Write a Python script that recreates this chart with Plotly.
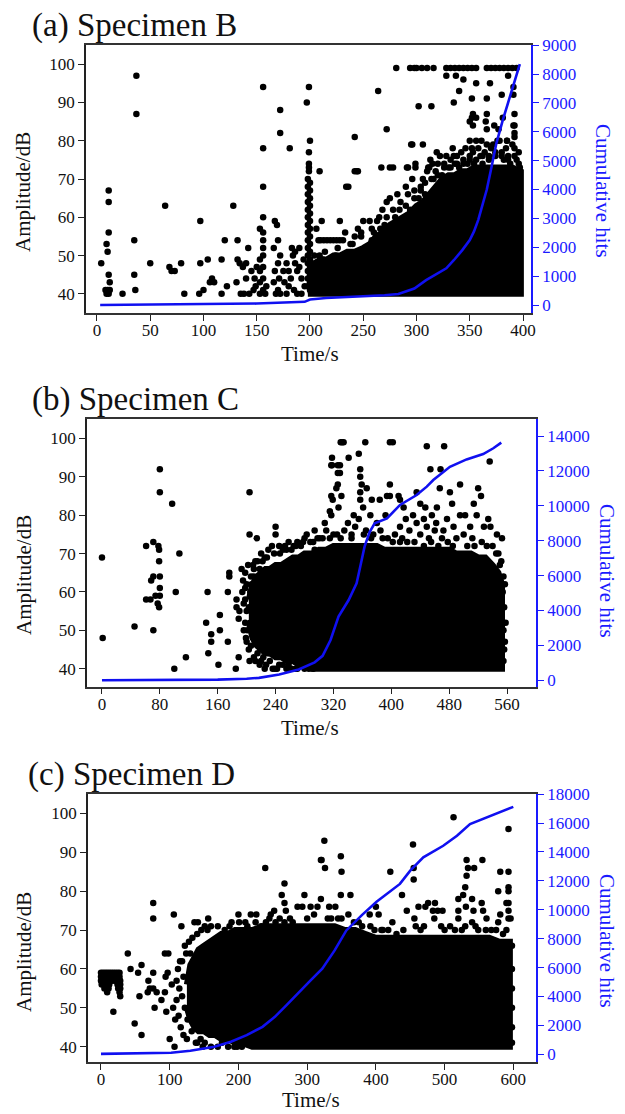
import plotly.graph_objects as go

W, H = 625, 1114
FONT = "Liberation Serif"
BLUE = "#1a1aff"
LINE_BLUE = "#1010f0"

# ---------------- Panel (a) Specimen B ----------------
a_time_ticks = [0, 50, 100, 150, 200, 250, 300, 350, 400]
a_hit_ticks = [0, 1000, 2000, 3000, 4000, 5000, 6000, 7000, 8000, 9000]
a_cum_t = [3, 50, 100, 150, 195, 200, 215, 245, 270, 283, 298, 309, 318, 328, 335, 343, 350,
           354, 358, 362, 366, 370, 375, 381, 386, 391, 395, 397]
a_cum_hits = [0, 10, 25, 50, 110, 190, 240, 290, 340, 380, 570, 860, 1060, 1270, 1550, 1900, 2250,
              2550, 2950, 3450, 4000, 4700, 5600, 6400, 7000, 7600, 8150, 8340]
# dense core (solid black region): time, upper and lower amplitude
a_core_t = [198, 204, 210, 216, 222, 228, 235, 242, 250, 256, 262, 268, 275, 281, 287, 293, 300, 306, 312,
            318, 324, 330, 336, 342, 348, 354, 360, 366, 372, 378, 384, 390, 398]
a_core_hi = [48, 48, 49, 49, 50, 50, 51, 51, 52, 53, 55, 56, 58, 59, 60, 61, 63, 64, 66,
             68, 70, 71, 71, 72, 72, 73, 73, 73, 73, 73, 73, 73, 72]
a_core_lo = [40, 40, 40, 40, 40, 40, 40, 40, 40, 40, 40, 40, 40, 40, 40, 40, 40, 40, 40,
             40, 40, 40, 40, 40, 40, 40, 40, 40, 40, 40, 40, 40, 40]
a_pts_early = [(4, 48), (8, 41), (9, 40), (10, 41), (11, 40), (12, 41), (12, 43), (11, 45), (10, 51), (9, 53),
               (11, 56), (11, 64), (11, 67), (24, 40), (35, 45), (36, 41), (35, 54), (37, 87), (37, 97),
               (50, 48), (64, 63), (68, 47), (70, 46), (73, 46), (79, 48), (82, 40), (96, 40), (97, 48),
               (97, 59), (100, 41), (104, 49), (106, 43), (108, 44), (110, 43), (117, 40), (117, 49),
               (120, 54), (122, 42), (128, 63), (131, 43), (132, 54), (132, 49), (134, 48), (135, 40),
               (137, 47), (138, 40), (140, 48), (140, 44), (142, 52), (143, 40), (145, 46), (147, 41)]
a_pts_mid = [(148, 44), (150, 47), (149, 42), (153, 57), (156, 56), (156, 54), (156, 52), (156, 50), (153, 49),
             (156, 47), (153, 46), (156, 44), (153, 43), (156, 41), (153, 40), (158, 40), (159, 42), (156, 60),
             (156, 68), (156, 78), (156, 94), (167, 59), (169, 58), (170, 54), (166, 52), (172, 50), (170, 48),
             (167, 46), (171, 44), (166, 43), (170, 41), (168, 40), (172, 40), (172, 82), (172, 88), (181, 78),
             (175, 46), (178, 48), (180, 46), (183, 52), (184, 50), (186, 48), (188, 46), (190, 47), (192, 44),
             (176, 43), (180, 42), (185, 41), (188, 40), (192, 40), (195, 42), (178, 40), (182, 44), (186, 51),
             (194, 49), (190, 52),
             (198, 42), (198, 44), (198, 46), (198, 48), (198, 50), (198, 52), (198, 54), (198, 56), (198, 58),
             (198, 60), (198, 62), (198, 64), (198, 66), (198, 68), (198, 70),
             (200, 41), (200, 43), (200, 45), (200, 47), (200, 49), (200, 51), (200, 53), (200, 55), (200, 57),
             (200, 59), (200, 61), (200, 63), (200, 65), (200, 67), (200, 69),
             (199, 72), (199, 73), (199, 74), (199, 77), (200, 80), (197, 90), (199, 94),
             (209, 72), (206, 57), (208, 54), (210, 54), (213, 54), (216, 54), (219, 54), (222, 54), (225, 54),
             (228, 54), (231, 54), (209, 50), (212, 49), (216, 47), (220, 49), (224, 50), (228, 48), (232, 47),
             (236, 49), (211, 59), (228, 59), (233, 56), (234, 68), (240, 53), (242, 55), (245, 57), (248, 55),
             (250, 59), (252, 52), (254, 50), (256, 59), (258, 54), (260, 56), (262, 52), (263, 59), (244, 50),
             (246, 47), (238, 46), (242, 81), (244, 72), (242, 72), (245, 72), (236, 68),
             (204, 50), (214, 51), (226, 52), (238, 53), (248, 56), (258, 57), (266, 57), (272, 60)]
a_pts_high = [(264, 93), (272, 83), (267, 73), (275, 73), (278, 73), (281, 99), (265, 60), (268, 62), (270, 58),
              (272, 64), (275, 65), (278, 62), (280, 60), (282, 66), (285, 64), (287, 58), (290, 68), (292, 66),
              (294, 62), (296, 70), (298, 67), (291, 73), (292, 73), (299, 73), (299, 74), (295, 79), (296, 79),
              (302, 89), (306, 79), (294, 99), (298, 99), (300, 99), (305, 99), (310, 99), (314, 89), (316, 99),
              (302, 65), (304, 68), (306, 70), (308, 66), (310, 72), (311, 73), (313, 75), (315, 74), (312, 73),
              (316, 70), (318, 72), (319, 77), (320, 74), (322, 76), (324, 71), (326, 74), (328, 76), (330, 73),
              (332, 75), (334, 78), (335, 76), (336, 74), (338, 76), (340, 73), (342, 77), (344, 75), (346, 78),
              (348, 74), (350, 80), (350, 76), (352, 78), (353, 77), (354, 74), (356, 80), (358, 78), (360, 76),
              (361, 80), (362, 74), (364, 77), (366, 83), (366, 79), (368, 75), (370, 78), (372, 79), (374, 76),
              (376, 80), (378, 80), (380, 77), (382, 75), (384, 78), (385, 80), (386, 76), (388, 74), (390, 79),
              (392, 78), (394, 75), (396, 77), (397, 73),
              (284, 62), (290, 63), (298, 65), (304, 67), (308, 69), (314, 70), (320, 71), (326, 73), (332, 73),
              (338, 74), (344, 74), (350, 75), (356, 75), (362, 76), (368, 76), (374, 77), (380, 76), (386, 75),
              (392, 76), (396, 74),
              (328, 99), (332, 99), (336, 99), (340, 99), (344, 99), (348, 99), (352, 99), (356, 99), (366, 99),
              (370, 99), (374, 99), (378, 99), (382, 99), (386, 99), (390, 99), (394, 99), (328, 97), (337, 97),
              (344, 96), (356, 95), (369, 95), (386, 97), (340, 93), (391, 94), (391, 92), (335, 90), (352, 91),
              (366, 91), (380, 92), (392, 87), (353, 87), (352, 86), (353, 84), (365, 85), (373, 84), (381, 86),
              (392, 84), (392, 82), (350, 85), (356, 86), (366, 87), (377, 83), (391, 84), (392, 81), (385, 80)]

# ---------------- Panel (b) Specimen C ----------------
b_time_ticks = [0, 80, 160, 240, 320, 400, 480, 560]
b_hit_ticks = [0, 2000, 4000, 6000, 8000, 10000, 12000, 14000]
b_cum_t = [0, 80, 160, 200, 217, 245, 272, 294, 305, 316, 327, 341, 352, 357, 363, 370, 377, 394, 412, 435,
           449, 458, 481, 504, 527, 541, 552]
b_cum_hits = [0, 10, 40, 90, 140, 330, 620, 1030, 1400, 2310, 3650, 4600, 5560, 6510, 7660, 8500, 9000, 9280,
              10050, 10620, 11100, 11480, 12240, 12660, 12970, 13300, 13620]
b_core_t = [203, 208, 214, 220, 226, 232, 240, 248, 256, 264, 272, 280, 290, 300, 310, 320, 330, 340, 350, 360,
            370, 380, 390, 400, 410, 420, 430, 440, 450, 460, 470, 480, 490, 500, 510, 520, 530, 540, 548, 553]
b_core_hi = [58, 62, 64, 65, 66, 66, 67, 67, 68, 69, 69, 70, 70, 71, 71, 72, 72, 72, 72, 72,
             72, 72, 71, 71, 71, 71, 71, 71, 71, 71, 71, 71, 70, 70, 70, 69, 69, 67, 65, 62]
b_core_lo = [52, 48, 46, 45, 44, 44, 43, 43, 42, 42, 41, 41, 40, 40, 40, 40, 40, 40, 40, 40,
             40, 40, 40, 40, 40, 40, 40, 40, 40, 40, 40, 40, 40, 40, 40, 40, 40, 40, 40, 40]
b_pts_early = [(0, 69), (1, 48), (45, 51), (61, 72), (71, 73), (78, 72), (79, 71), (80, 92), (80, 86), (97, 83),
               (79, 68), (68, 63), (71, 64), (80, 64), (80, 61), (61, 58), (67, 58), (74, 59), (80, 59), (77, 57),
               (79, 56), (71, 50), (107, 70), (102, 60), (100, 40), (116, 43), (146, 60), (144, 52), (151, 49),
               (151, 47), (147, 44), (161, 41), (163, 54), (163, 50), (174, 60), (174, 47), (176, 65), (176, 64),
               (185, 40), (186, 56), (186, 58), (189, 53), (189, 43), (204, 86), (204, 75), (214, 74), (204, 42),
               (193, 66), (198, 65), (198, 61), (202, 67), (209, 67), (194, 60), (196, 57), (200, 55), (198, 52),
               (196, 50), (200, 47), (203, 45), (205, 52), (207, 62), (208, 58), (210, 64), (206, 46), (210, 43),
               (215, 44), (220, 42), (223, 43), (227, 41), (230, 44), (239, 40), (242, 40), (250, 41), (252, 43),
               (258, 41), (262, 40), (266, 42), (270, 40), (275, 41), (280, 40), (286, 40), (292, 40),
               (190, 55), (195, 63), (198, 58), (200, 62), (201, 50), (199, 48), (203, 56), (205, 60), (206, 64),
               (212, 42), (218, 41), (225, 40), (232, 42), (236, 40), (245, 41), (255, 40), (268, 40)]
b_pts_high = [(215, 68), (220, 70), (225, 69), (230, 71), (235, 72), (240, 75), (240, 77), (245, 72), (250, 71),
              (253, 72), (258, 73), (262, 71), (265, 72), (270, 73), (275, 72), (280, 74), (283, 75), (288, 73),
              (294, 76), (294, 71), (298, 74), (301, 74), (308, 78), (315, 81), (317, 85), (317, 93), (318, 95),
              (326, 88), (329, 93), (329, 91), (330, 99), (332, 99), (334, 99), (341, 95), (355, 96), (318, 93),
              (326, 93), (357, 92), (357, 90), (359, 88), (326, 91), (324, 87), (319, 84), (331, 85), (327, 82),
              (317, 80), (348, 80), (361, 82), (357, 86), (366, 87), (357, 84), (371, 80), (373, 84), (384, 84),
              (364, 99), (398, 99), (402, 99), (449, 98), (473, 98), (536, 94), (454, 92), (468, 92), (398, 88),
              (410, 85), (394, 85), (467, 87), (481, 86), (495, 88), (520, 87), (524, 85), (484, 83), (514, 83),
              (435, 86), (440, 83), (447, 82), (463, 82), (456, 80), (430, 80), (412, 84), (398, 85), (412, 77),
              (435, 78), (449, 77), (477, 79), (486, 77), (502, 80), (518, 80), (534, 79), (537, 77), (546, 75),
              (553, 74), (472, 76), (509, 77), (417, 82), (310, 76), (320, 75), (335, 76), (345, 75), (350, 77),
              (365, 76), (375, 75), (385, 76), (395, 74), (405, 75), (415, 74), (425, 76), (440, 75), (452, 74),
              (460, 76), (470, 74), (490, 74), (500, 75), (512, 74), (525, 73), (540, 72), (548, 70), (330, 74),
              (340, 78), (355, 79), (380, 78), (392, 80), (420, 79), (445, 79), (462, 78), (495, 80), (528, 77),
              (552, 68), (555, 64), (554, 60), (556, 56), (555, 50), (556, 45), (555, 42),
              (210, 66), (212, 68), (218, 66), (222, 68), (228, 69), (238, 70), (246, 70), (255, 71), (268, 72),
              (278, 73), (292, 73), (305, 74), (315, 74), (325, 75), (345, 74), (362, 75), (372, 74), (388, 74),
              (402, 73), (412, 73), (422, 73), (432, 73), (445, 72), (455, 73), (465, 72), (478, 73), (485, 72),
              (505, 72), (515, 72), (532, 72), (545, 70), (550, 67), (557, 62), (558, 52), (557, 47)]

# ---------------- Panel (c) Specimen D ----------------
c_time_ticks = [0, 100, 200, 300, 400, 500, 600]
c_hit_ticks = [0, 2000, 4000, 6000, 8000, 10000, 12000, 14000, 16000, 18000]
c_cum_t = [0, 27, 85, 102, 130, 165, 189, 212, 235, 253, 270, 288, 305, 322, 340, 357, 367, 380, 401, 435,
           450, 469, 498, 518, 537, 561, 585, 600]
c_cum_hits = [30, 60, 90, 110, 250, 520, 870, 1330, 1900, 2590, 3400, 4320, 5120, 5930, 7190, 8570, 9050, 9650,
              10550, 11790, 12710, 13630, 14430, 15120, 15930, 16390, 16850, 17120]
c_core_t = [125, 130, 136, 142, 150, 158, 166, 175, 185, 195, 205, 220, 235, 250, 265, 280, 295, 310, 325,
            340, 355, 370, 385, 400, 415, 430, 445, 460, 475, 490, 505, 520, 535, 550, 565, 580, 595]
c_core_hi = [56, 61, 63, 65, 66, 67, 68, 69, 69, 70, 70, 70, 71, 71, 71, 71, 71, 71, 71,
             71, 70, 70, 69, 68, 68, 68, 68, 68, 68, 68, 68, 68, 68, 68, 68, 67, 67]
c_core_lo = [50, 47, 45, 44, 44, 43, 43, 42, 42, 41, 41, 40, 40, 40, 40, 40, 40, 40, 40,
             40, 40, 40, 40, 40, 40, 40, 40, 40, 40, 40, 40, 40, 40, 40, 40, 40, 40]
c_pts_early = [(0, 59), (3, 59), (6, 59), (9, 59), (12, 59), (15, 59), (18, 59), (21, 59), (24, 59), (27, 59),
               (0, 58), (3, 58), (6, 58), (9, 58), (12, 58), (15, 58), (18, 58), (21, 58), (24, 58), (27, 58),
               (0, 57), (4, 57), (8, 57), (12, 57), (16, 57), (20, 57), (24, 57), (28, 57),
               (1, 56), (4, 56), (8, 56), (12, 56), (24, 56), (28, 56), (5, 55), (8, 55), (11, 55), (25, 55),
               (28, 55), (9, 54), (27, 54), (28, 53),
               (18, 49), (39, 64), (43, 60), (49, 46), (54, 59), (56, 53), (59, 61), (59, 43), (68, 54), (69, 57),
               (71, 55), (76, 59), (76, 77), (76, 73), (76, 55), (78, 50), (81, 54), (88, 52), (93, 54), (93, 64),
               (94, 58), (95, 49), (97, 59), (98, 64), (100, 42), (103, 56), (106, 74), (107, 40), (108, 47),
               (110, 52), (112, 60), (114, 55), (116, 45), (117, 71), (118, 62), (120, 43), (122, 66), (125, 42),
               (130, 64), (136, 72), (132, 44), (141, 72), (138, 41), (145, 42), (151, 41), (160, 40), (170, 40),
               (185, 40), (194, 40), (151, 71), (156, 73), (160, 71),
               (105, 50), (110, 57), (113, 48), (115, 62), (118, 53), (120, 58), (122, 50), (124, 64), (126, 47),
               (128, 67), (133, 68), (140, 69), (146, 70), (155, 70), (170, 71), (140, 41), (148, 40), (176, 41),
               (198, 40), (205, 40)]
c_pts_high = [(180, 70), (187, 71), (200, 74), (201, 72), (213, 71), (218, 74), (226, 74), (233, 71), (240, 72),
              (239, 86), (247, 74), (252, 75), (254, 72), (263, 79), (267, 82), (267, 77), (267, 72), (269, 75),
              (279, 72), (286, 76), (293, 76), (296, 79), (305, 76), (315, 76), (320, 78), (320, 88), (321, 88),
              (325, 93), (326, 86), (332, 76), (341, 76), (349, 79), (349, 89), (350, 85), (363, 79), (391, 74),
              (400, 76), (404, 74), (418, 70), (421, 85), (424, 72), (438, 79), (445, 75), (454, 92), (455, 86),
              (455, 83), (456, 73), (462, 76), (472, 76), (476, 77), (483, 75), (485, 73), (486, 77), (490, 75),
              (497, 75), (508, 71), (513, 99), (520, 73), (520, 78), (520, 75), (527, 79), (530, 81), (531, 76),
              (532, 88), (532, 84), (534, 86), (540, 72), (540, 78), (542, 75), (543, 86), (549, 70), (554, 77),
              (555, 88), (556, 75), (561, 73), (578, 80), (578, 72), (581, 85), (581, 74), (590, 77), (593, 96),
              (593, 85), (593, 81), (593, 80), (593, 75), (593, 73), (593, 77), (596, 73),
              (330, 73), (345, 73), (360, 74), (375, 72), (410, 70), (430, 69), (465, 70), (500, 70), (525, 70),
              (560, 70), (585, 69),
              (190, 72), (210, 72), (225, 72), (245, 73), (260, 73), (275, 73), (300, 73), (310, 74), (335, 73),
              (350, 73), (368, 72), (380, 71), (392, 71), (398, 70), (408, 70), (440, 70), (458, 71), (470, 71),
              (495, 71), (515, 70), (530, 71), (545, 71), (568, 70), (575, 70), (590, 70), (598, 66), (598, 60),
              (598, 55), (598, 50), (598, 45), (598, 41)]

amp_ticks = [40, 50, 60, 70, 80, 90, 100]


def py(y):
    return 1 - y / H


panels = [
    dict(tag="(a) Specimen B", x_dom=[86, 531], y_dom=[45, 313], xr=[-10.3, 407.5], yr=[35.0, 105.0],
         y2r=[-277, 9005], xt=a_time_ticks, y2t=a_hit_ticks, cum_t=a_cum_t, cum_h=a_cum_hits,
         core=(a_core_t, a_core_hi, a_core_lo), pts=a_pts_early + a_pts_mid + a_pts_high,
         title_xy=(30, 5), amp_xy=(23, 192), cum_xy=(603, 191), time_xy=(310, 354)),
    dict(tag="(b) Specimen C", x_dom=[87, 536], y_dom=[419.3, 686.7], xr=[-20.7, 600], yr=[35.3, 105.0],
         y2r=[-367, 14960], xt=b_time_ticks, y2t=b_hit_ticks, cum_t=b_cum_t, cum_h=b_cum_hits,
         core=(b_core_t, b_core_hi, b_core_lo), pts=b_pts_early + b_pts_high,
         title_xy=(30, 379), amp_xy=(24, 575), cum_xy=(607, 571), time_xy=(310, 728)),
    dict(tag="(c) Specimen D", x_dom=[88, 536], y_dom=[794, 1062.3], xr=[-18.9, 633], yr=[36.0, 105.0],
         y2r=[-552, 18010], xt=c_time_ticks, y2t=c_hit_ticks, cum_t=c_cum_t, cum_h=c_cum_hits,
         core=(c_core_t, c_core_hi, c_core_lo), pts=c_pts_early + c_pts_high,
         title_xy=(26, 754), amp_xy=(24, 952), cum_xy=(607, 941), time_xy=(311, 1100)),
]

fig = go.Figure()
layout = dict(width=W, height=H, margin=dict(l=0, r=0, t=0, b=0, autoexpand=False), paper_bgcolor="white",
              plot_bgcolor="white", showlegend=False, font=dict(family=FONT, color="#111", size=17))
annotations = []

for i, p in enumerate(panels):
    n = i + 1
    xa = "x" if n == 1 else f"x{n}"
    ya_n = 2 * n - 1
    y2_n = 2 * n
    ya = "y" if ya_n == 1 else f"y{ya_n}"
    y2 = f"y{y2_n}"
    ct, chi, clo = p["core"]
    fig.add_trace(go.Scatter(x=ct + ct[::-1], y=chi + clo[::-1], mode="lines", fill="toself",
                             fillcolor="black", line=dict(color="black", width=6), xaxis=xa, yaxis=ya,
                             hoverinfo="skip"))
    fig.add_trace(go.Scatter(x=[q[0] for q in p["pts"]], y=[q[1] for q in p["pts"]], mode="markers",
                             marker=dict(size=6.5, color="black", line=dict(width=0)), xaxis=xa, yaxis=ya))
    fig.add_trace(go.Scatter(x=p["cum_t"], y=p["cum_h"], mode="lines", line=dict(color=LINE_BLUE, width=2.6),
                             xaxis=xa, yaxis=y2))
    xd = [p["x_dom"][0] / W, p["x_dom"][1] / W]
    yd = [py(p["y_dom"][1]), py(p["y_dom"][0])]
    layout["xaxis" if n == 1 else f"xaxis{n}"] = dict(
        domain=xd, range=p["xr"], anchor=ya, tickvals=p["xt"], ticks="outside", ticklen=6, tickwidth=1.3,
        tickcolor="#222", showline=True, linecolor="#333", linewidth=1.5, mirror=True, showgrid=False,
        zeroline=False, ticklabelstandoff=-5, tickfont=dict(family=FONT, size=17, color="#111"))
    layout["yaxis" if ya_n == 1 else f"yaxis{ya_n}"] = dict(
        domain=yd, range=p["yr"], anchor=xa, tickvals=amp_ticks, ticks="outside", ticklen=6, tickwidth=1.3,
        tickcolor="#222", showline=True, linecolor="#222", linewidth=1.5, showgrid=False, zeroline=False,
        tickfont=dict(family=FONT, size=17, color="#111"))
    layout[f"yaxis{y2_n}"] = dict(
        domain=yd, range=p["y2r"], anchor=xa, overlaying=ya, side="right", tickvals=p["y2t"],
        ticktext=[str(v) for v in p["y2t"]],
        ticks="outside", ticklen=6, tickwidth=1.3, tickcolor=BLUE, showline=True, linecolor=BLUE,
        linewidth=1.8, showgrid=False, zeroline=False, tickfont=dict(family=FONT, size=17, color=BLUE))
    tx, ty = p["title_xy"]
    annotations.append(dict(text=p["tag"], x=tx / W, y=py(ty), xref="paper", yref="paper", xanchor="left",
                            yanchor="top", showarrow=False, font=dict(family=FONT, size=33, color="#111")))
    ax_, ay_ = p["amp_xy"]
    annotations.append(dict(text="Amplitude/dB", x=ax_ / W, y=py(ay_), xref="paper", yref="paper",
                            xanchor="center", yanchor="middle", textangle=-90, showarrow=False,
                            font=dict(family=FONT, size=21, color="#111")))
    cx, cy = p["cum_xy"]
    annotations.append(dict(text="Cumulative hits", x=cx / W, y=py(cy), xref="paper", yref="paper",
                            xanchor="center", yanchor="middle", textangle=90, showarrow=False,
                            font=dict(family=FONT, size=21, color=BLUE)))
    sx, sy = p["time_xy"]
    annotations.append(dict(text="Time/s", x=sx / W, y=py(sy), xref="paper", yref="paper",
                            xanchor="center", yanchor="middle", showarrow=False,
                            font=dict(family=FONT, size=21, color="#111")))

layout["annotations"] = annotations
fig.update_layout(**layout)
fig.write_html("out.html")
